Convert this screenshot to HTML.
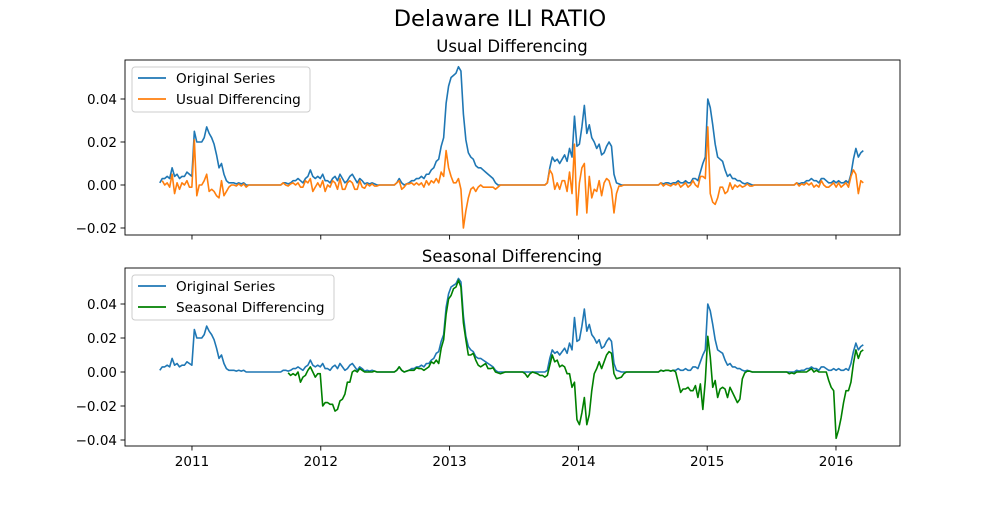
<!DOCTYPE html>
<html><head><meta charset="utf-8"><style>
body{margin:0;background:#fff;}
svg{font-family:"DejaVu Sans","Liberation Sans",sans-serif;}
</style></head><body>
<svg id="fig" width="1000" height="500" xmlns="http://www.w3.org/2000/svg">
<text x="500" y="26" text-anchor="middle" font-size="22.5">Delaware ILI RATIO</text>
<text x="512" y="52" text-anchor="middle" font-size="16.5">Usual Differencing</text>
<text x="512" y="262" text-anchor="middle" font-size="16.5">Seasonal Differencing</text>
<g id="top"></g>
<g id="bot"></g>
</svg>
<script>
// Weekly Delaware ILI ratio (x0.001), starting 2010 week 40
const y2010 = [1,3,3,4,3,8,4,5,3,4,4,6,5];
const y2011 = [4,25,20,20,20,22,27,24,22,19,14,8,10,5,2,1,1,1,0.5,1,0.5,1,0,0,0,0,0,0,0,0,0,0,0,0,0,0,0,1,1,0.5,1,2,2,3,2,1,3,4,7,4,3,4];
const y2012 = [3,5,2,2,1,3,4,2,5,3,1,2,4,5,3,1,3,2,0.5,1,0.5,1,0.5,0,0,0,0,0,0,0,0,1,3,1,0,0.5,1,2,2,3,3,4,3,5,5,7,8,11,12,18,22,38];
const y2013 = [46,50,51,52,55,53,33,21,15,13,12,9,8,8,7,6,5,4,3,1,0,0,0,0,0,0,0,0,0,0,0,0,0,0,0,0,0,0,0,0,1,8,13,11,12,10,12,14,11,17,13,32];
const y2014 = [18,19,27,37,24,28,22,20,17,19,14,15,18,20,18,5,1,0.5,0,0,0,0,0,0,0,0,0,0,0,0,0,0,0,0,1,0.5,1,1,0.5,1,1,2,1,1,2,1,1,3,3,2,6,10];
const y2015 = [13,40,36,28,19,13,12,11,7,4,5,3,3,2,2,1,0.5,1,0.5,0,0,0,0,0,0,0,0,0,0,0,0,0,0,0,0,0,0,1,0.5,1,1,2,2,3,2,2,1,3,3,2,1,1];
const y2016 = [2,1,2,1,1,2,1,5,12,17,13,15,16];
const startYear = 2010 + 39/52;
const xTicks = [2011,2012,2013,2014,2015,2016];
const topYTicks = [-0.02,0,0.02,0.04];
const botYTicks = [-0.04,-0.02,0,0.02,0.04];

const series = [].concat(y2010,y2011,y2012,y2013,y2014,y2015,y2016).map(v=>v/1000);
const times = series.map((v,i)=>startYear + i*7/365.25);
const usual = series.map((v,i)=> i===0?null:v-series[i-1]);
const seasonal = series.map((v,i)=> i<52?null:v-series[i-52]);

const NS="http://www.w3.org/2000/svg";
function mk(tag,attrs,parent){const e=document.createElementNS(NS,tag);for(const k in attrs)e.setAttribute(k,attrs[k]);parent.appendChild(e);return e;}
const L=125,R=900;
const xmin=2010.48, xmax=2016.497;
const sx=t=>L+(t-xmin)/(xmax-xmin)*(R-L);

function panel(g,top,bot,ymin,ymax,yt,showX,second,secName,secColor,legendW){
  const sy=v=>bot-(v-ymin)/(ymax-ymin)*(bot-top);
  function line(vals,color,name){
    let d="";let pen=false;
    vals.forEach((v,i)=>{if(v===null){pen=false;return;}d+=(pen?"L":"M")+sx(times[i]).toFixed(2)+","+sy(v).toFixed(2);pen=true;});
    const p=mk("path",{d:d,fill:"none",stroke:color,"stroke-width":1.6,"stroke-linejoin":"round"},g);
    
    
  }
  line(series,"#1f77b4","original-series-line");
  line(second,secColor,secName+"-line");
  const fr=mk("rect",{x:L,y:top,width:R-L,height:bot-top,fill:"none",stroke:"#000","stroke-width":0.9},g);
  
  
  yt.forEach(v=>{
    const y=sy(v);
    mk("line",{x1:L-4.5,x2:L,y1:y,y2:y,stroke:"#000","stroke-width":0.9},g);
    const t=mk("text",{x:L-8,y:y+4.8,"text-anchor":"end","font-size":13.5},g);
    t.textContent=(v<0?"\u2212":"")+Math.abs(v).toFixed(2);
    
    
  });
  xTicks.forEach(yr=>{
    const x=sx(yr);
    mk("line",{x1:x,x2:x,y1:bot,y2:bot+4.5,stroke:"#000","stroke-width":0.9},g);
    if(showX){
      const t=mk("text",{x:x,y:bot+20,"text-anchor":"middle","font-size":13.5},g);
      t.textContent=yr;
      
      
    }
  });
  const lg=mk("g",{},g);
  
  
  mk("rect",{x:132,y:top+7,width:legendW,height:45,rx:3,fill:"#fff","fill-opacity":0.8,stroke:"#ccc","stroke-width":1},lg);
  const items=[["Original Series","#1f77b4"],[secName==="usual-differencing"?"Usual Differencing":"Seasonal Differencing",secColor]];
  items.forEach((it,k)=>{
    const yy=top+18+k*21;
    mk("line",{x1:138,x2:166,y1:yy,y2:yy,stroke:it[1],"stroke-width":1.8},lg);
    const t=mk("text",{x:176,y:yy+4.8,"font-size":13.6},lg);
    t.textContent=it[0];
    
    
  });
}
panel(document.getElementById("top"),60,235,-0.02326,0.05814,topYTicks,false,usual,"usual-differencing","#ff7f0e",178);
panel(document.getElementById("bot"),268,446,-0.04353,0.06118,botYTicks,true,seasonal,"seasonal-differencing","#008000",202);
</script>
</body></html>
